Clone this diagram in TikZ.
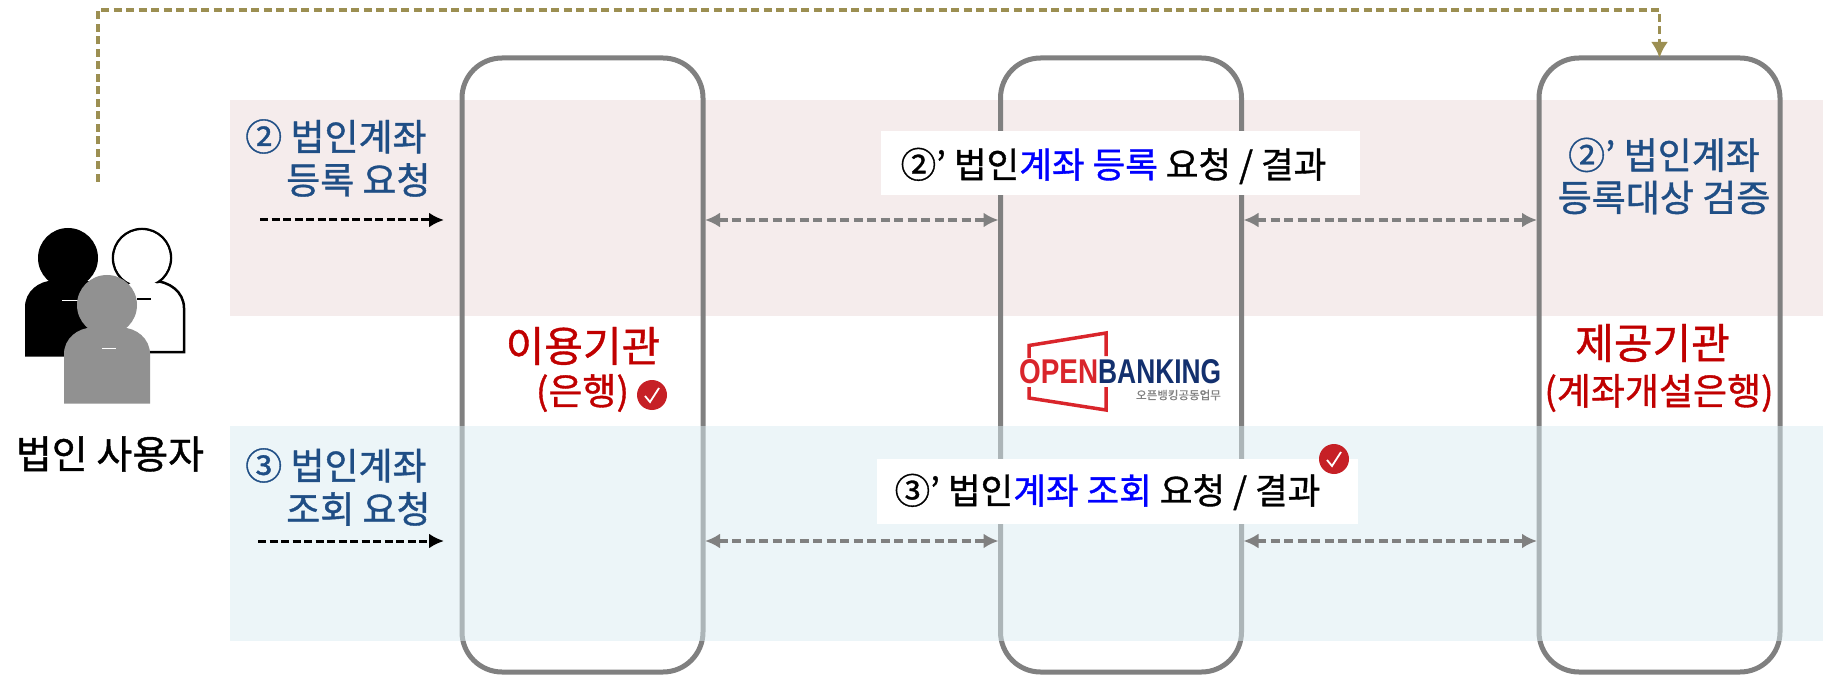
\documentclass[tikz,border=0pt]{standalone}
\usepackage{fontspec}
\setmainfont{Noto Sans CJK KR}[FakeBold=1.0]
\newfontfamily\logofont{Liberation Sans}
\usetikzlibrary{arrows.meta}
\definecolor{navyt}{HTML}{1F4E85}
\definecolor{redt}{HTML}{C00000}
\definecolor{pinkb}{HTML}{F5ECEC}
\definecolor{blueb}{RGB}{217,235,241}
\definecolor{boxg}{HTML}{808080}
\definecolor{persong}{HTML}{919191}
\definecolor{olive}{HTML}{9C8F52}
\definecolor{logored}{HTML}{D9252B}
\definecolor{logonavy}{HTML}{13306E}
\definecolor{checkr}{HTML}{C62026}
\newcommand{\fs}[2][1.2]{\fontsize{#2}{#1\dimexpr #2pt\relax}\selectfont}
\tikzset{
  x=1pt,y=-1pt,
  band/.style={draw=none,inner sep=0pt,outer sep=0pt,anchor=north west},
  orgbox/.style={draw=boxg,line width=5pt,rounded corners=40pt,minimum width=241pt,minimum height=614pt,inner sep=0pt,outer sep=0pt},
  labelbg/.style={fill=white,inner sep=0pt,outer sep=0pt},
  grayarrow/.style={draw=boxg,line width=3.5pt,dash pattern=on 9pt off 4.5pt,{Latex[length=15pt,width=15pt,color=boxg]}-{Latex[length=15pt,width=15pt,color=boxg]},shorten <=2pt,shorten >=2pt},
  userarrow/.style={draw=black,line width=3pt,dash pattern=on 8pt off 3.5pt,-{Latex[length=15pt,width=15pt,color=black]},shorten >=18pt},
  olivearrow/.style={draw=olive,line width=3.5pt,dash pattern=on 8pt off 4.5pt,-{Latex[length=16pt,width=17pt,color=olive]}},
  navytext/.style={text=navyt,inner sep=0pt,align=left,anchor=west,font=\fs{37}},
  redtext/.style={text=redt,inner sep=0pt},
  blacktext/.style={text=black,inner sep=0pt},
  checkdot/.style={circle,fill=checkr,minimum size=30pt,inner sep=0pt},
}
\newcommand{\personshape}[2]{% x-centre, head y (shape path)
  (#1,#2) circle[radius=30]
  (#1-43,#2+98.5) -- (#1-43,#2+49) to[out=90,in=180] (#1-14,#2+22.5) -- (#1+14,#2+22.5) to[out=0,in=90] (#1+43,#2+49) -- (#1+43,#2+98.5) -- cycle}
\begin{document}
\begin{tikzpicture}
\useasboundingbox (0,0) rectangle (1823,676);
% bands and boxes
\node[band,fill=pinkb,minimum width=1593pt,minimum height=216pt] (pinkband) at (230,100) {};
\node[orgbox] (b1) at (582.5,365) {};
\node[orgbox] (b2) at (1121,365) {};
\node[orgbox] (b3) at (1659.5,365) {};
\node[band,fill=blueb,fill opacity=0.5,minimum width=1593pt,minimum height=215pt] (blueband) at (230,426) {};
% users
\fill[black] \personshape{68}{258};
\draw[black,line width=2.5pt] (142,258) circle[radius=29];
\draw[black,line width=2.5pt] (100,352) -- (184,352) -- (184,308) to[out=90,in=0] (153,281) -- (131,281) -- (100,300);
\fill[white] (142,258) circle[radius=27.8];
\fill[white] (102,350) -- (182,350) -- (182,308) to[out=90,in=0] (153,283) -- (131,283) -- (102,300) -- cycle;
\fill[white] (132,270) rectangle (152,292);
\fill[black] (137,298) rectangle (151,300);
\fill[white] (62,300.5) rectangle (78,301.5);
\fill[persong] \personshape{107}{305};
\fill[white] (102,347.5) rectangle (116,348.5);
\node[blacktext,font=\fs{39}] (usertxt) at (110,454) {법인 사용자};
% left labels
\node[navytext] (l2) at (245,158) {② 법인계좌\\[-1pt]\hspace*{41pt}등록 요청};
\node[navytext] (l3) at (245,487) {③ 법인계좌\\[-1pt]\hspace*{41pt}조회 요청};
% user arrows
\coordinate (u2) at (260,220);
\coordinate (u3) at (258,541);
\draw[userarrow] (u2) -- (b1.west |- u2);
\draw[userarrow] (u3) -- (b1.west |- u3);
% white labels
\node[labelbg,minimum width=479pt,minimum height=64pt] (w2) at (1120.5,163) {};
\node[blacktext,font=\fs{35.5}] (t2) at (1113.5,166) {②' 법인\textcolor{blue}{계좌 등록} 요청 / 결과};
\node[labelbg,minimum width=481pt,minimum height=65pt] (w3) at (1117.5,491.5) {};
\node[blacktext,font=\fs{35.5}] (t3) at (1107.5,492) {③' 법인\textcolor{blue}{계좌 조회} 요청 / 결과};
% inter-box arrows
\coordinate (r2) at (0,220);
\coordinate (r3) at (0,541);
\draw[grayarrow] (b1.east |- r2) -- (b2.west |- r2);
\draw[grayarrow] (b2.east |- r2) -- (b3.west |- r2);
\draw[grayarrow] (b1.east |- r3) -- (b2.west |- r3);
\draw[grayarrow] (b2.east |- r3) -- (b3.west |- r3);
% olive connector
\coordinate (ostart) at (98,182);
\coordinate (ocorner) at (98,10);
\draw[olivearrow] (ostart) -- (ocorner) -- (b3.north |- ocorner) -- (b3.north);
% org labels
\node[redtext,font=\fs{42}] (n1) at (583,346) {이용기관};
\node[redtext,font=\fs{37}] (n1s) at (582.5,393) {(은행)};
\node[redtext,font=\fs{42}] (n3) at (1652.5,343) {제공기관};
\node[redtext,font=\fs{37}] (n3s) at (1659,393) {(계좌개설은행)};
\node[text=navyt,inner sep=0pt,align=center,font=\fs{37}] (n3a) at (1664,176) {②' 법인계좌\\[-2pt]등록대상 검증};
% checks
\node[checkdot] (c1) at (652,395) {};
\draw[white,line width=1.8pt] ([shift={(-7,1)}]c1.center) -- ([shift={(-2,7)}]c1.center) -- ([shift={(7,-7)}]c1.center);
\node[checkdot] (c2) at (1334,459) {};
\draw[white,line width=1.8pt] ([shift={(-7,1)}]c2.center) -- ([shift={(-2,7)}]c2.center) -- ([shift={(7,-7)}]c2.center);
% logo
\draw[logored,line width=3.5pt,miter limit=10] (1029,358) -- (1029,345.5) -- (1106,333) -- (1106,356);
\draw[logored,line width=3.5pt] (1029,387) -- (1029,398) -- (1106,410) -- (1106,387);
\node[inner sep=0pt,anchor=west,text=logored] (lo) at (1019,371.5) {\resizebox{79pt}{24pt}{\logofont\bfseries OPEN}};
\node[inner sep=0pt,anchor=west,text=logonavy] (lb) at (1098,371.5) {\resizebox{123pt}{24pt}{\logofont\bfseries BANKING}};
\node[inner sep=0pt,anchor=east,text=black!50,font=\fs{11.5}] (ls) at (1221,395) {오픈뱅킹공동업무};
\end{tikzpicture}
\end{document}
